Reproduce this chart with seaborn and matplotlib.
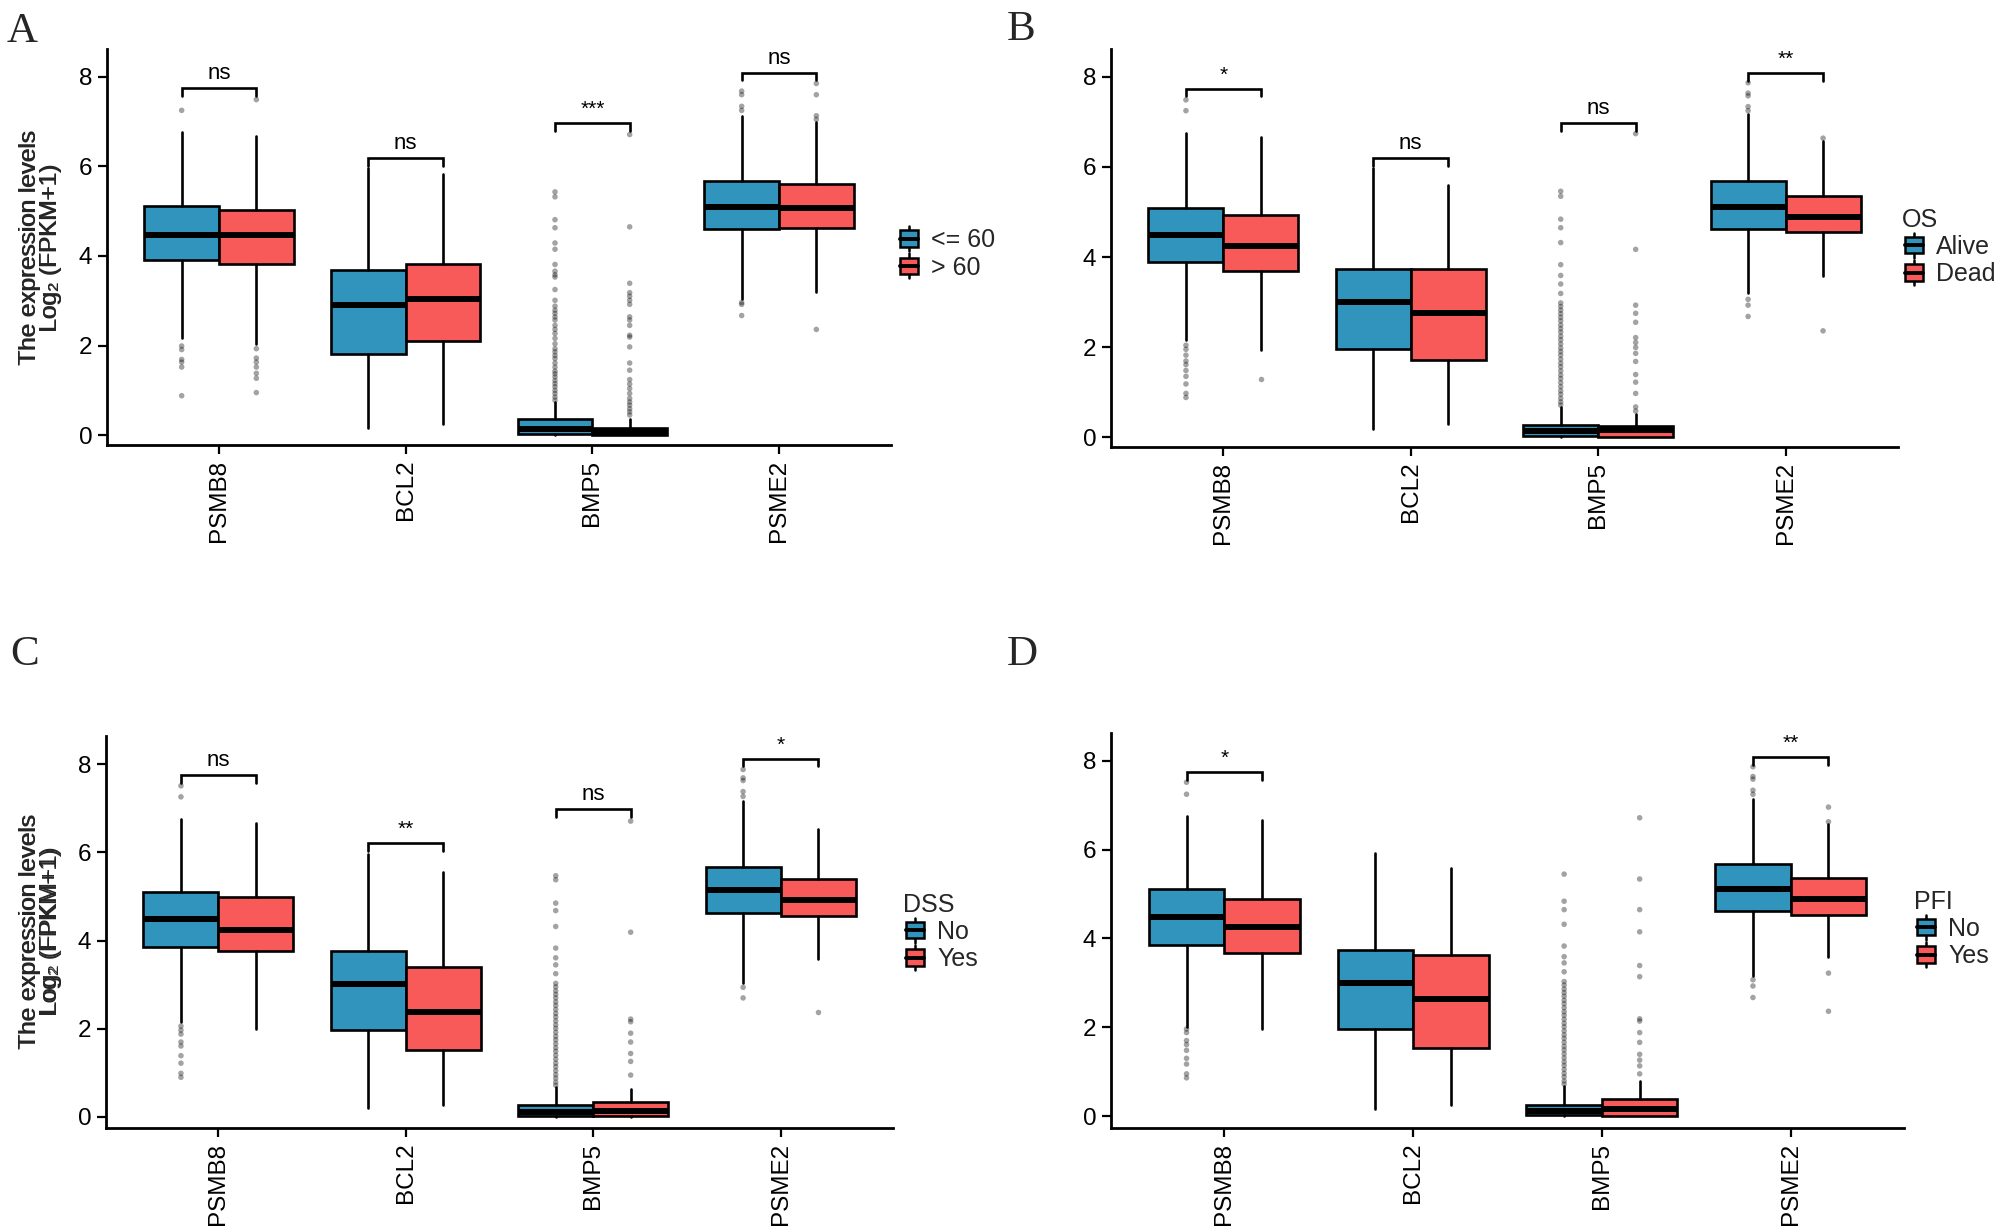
import numpy as np
import pandas as pd
import matplotlib
matplotlib.use("Agg")
import matplotlib.pyplot as plt
import seaborn as sns
from matplotlib.patches import Patch, Rectangle
from matplotlib.lines import Line2D
from matplotlib.legend_handler import HandlerBase

# ---------------- data ----------------
genes = ["PSMB8", "BCL2", "BMP5", "PSME2"]
colors = ["#3194BC", "#F85A5A"]

# Panel A : age
A_groups = ["<= 60", "> 60"]
A_title = None
A_g1_q1 = [3.91, 1.82, 0.03, 4.60]
A_g1_med = [4.47, 2.91, 0.13, 5.09]
A_g1_q3 = [5.11, 3.68, 0.35, 5.67]
A_g1_lo = [2.16, 0.17, 0.00, 3.05]
A_g1_hi = [6.76, 5.97, 0.74, 7.13]
A_g1_out = [[7.25, 1.99, 1.91, 1.69, 1.63, 1.52, 0.88],
            [],
            [5.43, 5.32, 4.81, 4.63, 4.29, 4.15, 3.81, 3.66, 3.58, 3.53, 3.25, 3.01, 2.88,
             2.79, 2.72, 2.64, 2.57, 2.45, 2.36, 2.27, 2.16, 2.04, 1.93, 1.86, 1.78, 1.71,
             1.61, 1.52, 1.43, 1.37, 1.30, 1.22, 1.15, 1.08, 1.00, 0.93, 0.85, 0.78],
            [7.68, 7.60, 7.34, 7.25, 2.96, 2.92, 2.67]]
A_g2_q1 = [3.82, 2.10, 0.00, 4.63]
A_g2_med = [4.46, 3.05, 0.07, 5.07]
A_g2_q3 = [5.03, 3.83, 0.15, 5.60]
A_g2_lo = [2.04, 0.24, 0.00, 3.19]
A_g2_hi = [6.67, 5.84, 0.36, 6.98]
A_g2_out = [[7.49, 1.93, 1.72, 1.63, 1.52, 1.38, 1.27, 0.95],
            [],
            [6.71, 4.65, 3.39, 3.18, 3.10, 3.01, 2.92, 2.64, 2.57, 2.45, 2.23, 2.19, 1.97,
             1.61, 1.45, 1.24, 1.14, 1.04, 0.93, 0.82, 0.74, 0.67, 0.59, 0.52, 0.45],
            [7.85, 7.60, 7.13, 7.05, 2.36]]
A_sig_pos = [0, 1, 2, 3]
A_sig_y = [7.74, 6.18, 6.97, 8.09]
A_sig_lab = ["ns", "ns", "***", "ns"]

# Panel B : OS
B_groups = ["Alive", "Dead"]
B_title = "OS"
B_g1_q1 = [3.88, 1.95, 0.02, 4.63]
B_g1_med = [4.48, 3.00, 0.13, 5.12]
B_g1_q3 = [5.09, 3.73, 0.27, 5.69]
B_g1_lo = [2.16, 0.17, 0.00, 3.19]
B_g1_hi = [6.76, 5.97, 0.67, 7.17]
B_g1_out = [[7.49, 7.25, 2.04, 1.95, 1.82, 1.69, 1.61, 1.48, 1.35, 1.18, 0.97, 0.88],
            [],
            [5.46, 5.35, 4.84, 4.65, 4.32, 3.83, 3.59, 3.40, 3.19, 2.98, 2.90, 2.82, 2.74,
             2.66, 2.58, 2.49, 2.41, 2.33, 2.24, 2.16, 2.07, 1.98, 1.90, 1.82, 1.73, 1.64,
             1.56, 1.47, 1.38, 1.30, 1.21, 1.12, 1.03, 0.95, 0.86, 0.78, 0.71],
            [7.87, 7.64, 7.58, 7.34, 7.25, 3.06, 2.93, 2.68]]
B_g2_q1 = [3.70, 1.72, 0.00, 4.56]
B_g2_med = [4.25, 2.75, 0.15, 4.88]
B_g2_q3 = [4.94, 3.73, 0.24, 5.36]
B_g2_lo = [1.93, 0.28, 0.00, 3.58]
B_g2_hi = [6.67, 5.60, 0.52, 6.58]
B_g2_out = [[1.29],
            [],
            [6.74, 4.17, 2.93, 2.75, 2.55, 2.21, 2.10, 1.99, 1.86, 1.68, 1.39, 1.22, 0.97,
             0.67, 0.58],
            [6.64, 2.36]]
B_sig_pos = [0, 1, 2, 3]
B_sig_y = [7.74, 6.20, 6.97, 8.09]
B_sig_lab = ["*", "ns", "ns", "**"]

# Panel C : DSS
C_groups = ["No", "Yes"]
C_title = "DSS"
C_g1_q1 = [3.86, 1.97, 0.02, 4.63]
C_g1_med = [4.50, 3.02, 0.12, 5.14]
C_g1_q3 = [5.10, 3.76, 0.27, 5.68]
C_g1_lo = [2.15, 0.20, 0.00, 3.03]
C_g1_hi = [6.76, 5.96, 0.68, 7.16]
C_g1_out = [[7.51, 7.26, 2.06, 1.97, 1.88, 1.70, 1.61, 1.39, 1.22, 0.99, 0.90],
            [],
            [5.47, 5.38, 4.85, 4.68, 4.32, 3.83, 3.61, 3.45, 3.25, 3.03, 2.95, 2.86, 2.78,
             2.70, 2.61, 2.53, 2.44, 2.35, 2.27, 2.18, 2.09, 2.01, 1.92, 1.83, 1.75, 1.66,
             1.57, 1.49, 1.40, 1.31, 1.22, 1.14, 1.05, 0.96, 0.88, 0.79, 0.72],
            [7.88, 7.69, 7.63, 7.38, 7.27, 2.94, 2.70]]
C_g2_q1 = [3.77, 1.53, 0.02, 4.56]
C_g2_med = [4.23, 2.39, 0.13, 4.91]
C_g2_q3 = [4.98, 3.41, 0.33, 5.40]
C_g2_lo = [1.99, 0.28, 0.00, 3.58]
C_g2_hi = [6.67, 5.56, 0.64, 6.54]
C_g2_out = [[],
            [],
            [6.71, 4.19, 2.22, 2.16, 1.90, 1.70, 1.44, 1.26, 0.95],
            [2.37]]
C_sig_pos = [0, 1, 2, 3]
C_sig_y = [7.75, 6.21, 6.98, 8.12]
C_sig_lab = ["ns", "**", "ns", "*"]

# Panel D : PFI
D_groups = ["No", "Yes"]
D_title = "PFI"
D_g1_q1 = [3.86, 1.95, 0.02, 4.63]
D_g1_med = [4.49, 3.00, 0.11, 5.11]
D_g1_q3 = [5.11, 3.74, 0.25, 5.67]
D_g1_lo = [2.01, 0.16, 0.00, 3.15]
D_g1_hi = [6.77, 5.93, 0.68, 7.14]
D_g1_out = [[7.52, 7.25, 1.96, 1.88, 1.70, 1.61, 1.48, 1.30, 1.17, 0.95, 0.86],
            [],
            [5.45, 4.84, 4.65, 4.32, 3.83, 3.59, 3.45, 3.25, 3.03, 2.95, 2.86, 2.78, 2.70,
             2.61, 2.53, 2.44, 2.35, 2.27, 2.18, 2.09, 2.01, 1.92, 1.83, 1.75, 1.66, 1.57,
             1.49, 1.40, 1.31, 1.22, 1.14, 1.05, 0.96, 0.88, 0.79, 0.72],
            [7.87, 7.65, 7.59, 7.34, 7.25, 3.07, 2.93, 2.67]]
D_g2_q1 = [3.68, 1.54, 0.01, 4.52]
D_g2_med = [4.27, 2.63, 0.16, 4.90]
D_g2_q3 = [4.90, 3.62, 0.38, 5.36]
D_g2_lo = [1.96, 0.25, 0.00, 3.58]
D_g2_hi = [6.68, 5.59, 0.78, 6.57]
D_g2_out = [[],
            [],
            [6.72, 5.34, 4.65, 4.15, 3.39, 3.14, 2.19, 2.14, 1.88, 1.66, 1.39, 1.26, 1.13,
             0.95],
            [6.96, 6.63, 3.22, 2.36]]
D_sig_pos = [0, 3]
D_sig_y = [7.75, 8.09]
D_sig_lab = ["*", "**"]

yticks = [0, 2, 4, 6, 8]
panel_letters = ["A", "B", "C", "D"]
ylabel_text = "The expression levels\nLog\u2082 (FPKM+1)"

# ---------------- style ----------------
sns.set_theme(style="ticks")
plt.rcParams["font.family"] = ["Liberation Sans", "DejaVu Sans"]

W, H = 2004, 1229
fig = plt.figure(figsize=(W / 100, H / 100), dpi=100)


class BoxKey(HandlerBase):
    def create_artists(self, legend, orig_handle, xdescent, ydescent, width, height,
                       fontsize, trans):
        fc = orig_handle.get_facecolor()
        cx = -xdescent + width / 2
        bw = width * 0.78
        y0 = -ydescent
        wl = Line2D([cx, cx], [y0 - height * 0.2, y0 + height * 1.2], color="black",
                    lw=1.8, transform=trans)
        rect = Rectangle((cx - bw / 2, y0 + height * 0.04), bw, height * 0.92,
                         facecolor=fc, edgecolor="black", lw=1.8, transform=trans)
        med = Line2D([cx - bw / 2, cx + bw / 2], [y0 + height / 2] * 2, color="black",
                     lw=2.8, transform=trans)
        return [wl, rect, med]


def px_rect(l, r, t, b):
    return [l / W, 1 - b / H, (r - l) / W, (b - t) / H]


panels = [
    dict(rect=px_rect(107, 891, 49, 445), ylim=(-0.22, 8.62), groups=A_groups, title=A_title,
         g1=(A_g1_q1, A_g1_med, A_g1_q3, A_g1_lo, A_g1_hi, A_g1_out),
         g2=(A_g2_q1, A_g2_med, A_g2_q3, A_g2_lo, A_g2_hi, A_g2_out),
         sig=(A_sig_pos, A_sig_y, A_sig_lab), leg=(897, 254), letter=(7, 42)),
    dict(rect=px_rect(1111, 1898, 49, 447), ylim=(-0.22, 8.62), groups=B_groups, title=B_title,
         g1=(B_g1_q1, B_g1_med, B_g1_q3, B_g1_lo, B_g1_hi, B_g1_out),
         g2=(B_g2_q1, B_g2_med, B_g2_q3, B_g2_lo, B_g2_hi, B_g2_out),
         sig=(B_sig_pos, B_sig_y, B_sig_lab), leg=(1902, 247), letter=(1007, 40)),
    dict(rect=px_rect(106, 893, 736, 1128), ylim=(-0.25, 8.64), groups=C_groups, title=C_title,
         g1=(C_g1_q1, C_g1_med, C_g1_q3, C_g1_lo, C_g1_hi, C_g1_out),
         g2=(C_g2_q1, C_g2_med, C_g2_q3, C_g2_lo, C_g2_hi, C_g2_out),
         sig=(C_sig_pos, C_sig_y, C_sig_lab), leg=(903, 932), letter=(10, 665)),
    dict(rect=px_rect(1111, 1904, 733, 1128), ylim=(-0.27, 8.63), groups=D_groups, title=D_title,
         g1=(D_g1_q1, D_g1_med, D_g1_q3, D_g1_lo, D_g1_hi, D_g1_out),
         g2=(D_g2_q1, D_g2_med, D_g2_q3, D_g2_lo, D_g2_hi, D_g2_out),
         sig=(D_sig_pos, D_sig_y, D_sig_lab), leg=(1914, 929), letter=(1007, 665)),
]

EDGE_LW = 1.9
for pi, p in enumerate(panels):
    ax = fig.add_axes(p["rect"])
    groups = p["groups"]

    # outliers through seaborn's categorical scale (dodged by hue)
    rows = []
    for gi, gdata in enumerate([p["g1"], p["g2"]]):
        for ci, gene in enumerate(genes):
            for v in gdata[5][ci]:
                rows.append((gene, groups[gi], v))
    df = pd.DataFrame(rows, columns=["gene", "group", "value"])
    sns.stripplot(data=df, x="gene", y="value", hue="group", order=genes,
                  hue_order=groups, dodge=True, jitter=False,
                  palette=["black", "black"], alpha=0.36, size=4.0, linewidth=0,
                  legend=False, ax=ax, zorder=1)

    # boxes from summary statistics
    for gi, gdata in enumerate([p["g1"], p["g2"]]):
        q1, med, q3, lo, hi, _ = gdata
        stats = [dict(q1=q1[i], med=med[i], q3=q3[i], whislo=lo[i], whishi=hi[i], fliers=[])
                 for i in range(len(genes))]
        offs = -0.2 if gi == 0 else 0.2
        ax.bxp(stats, positions=[i + offs for i in range(len(genes))], widths=0.4,
               patch_artist=True, showcaps=False, showfliers=False, manage_ticks=False,
               boxprops=dict(facecolor=colors[gi], edgecolor="black", linewidth=EDGE_LW),
               whiskerprops=dict(color="black", linewidth=EDGE_LW),
               medianprops=dict(color="black", linewidth=4.3, solid_capstyle="butt"),
               zorder=2)

    # significance brackets
    sp, sy, sl = p["sig"]
    for pos, yv, lab in zip(sp, sy, sl):
        x0, x1 = pos - 0.2, pos + 0.2
        ax.plot([x0, x0, x1, x1], [yv - 0.17, yv, yv, yv - 0.17], color="black",
                lw=1.9, solid_joinstyle="miter", clip_on=False, zorder=3)
        ax.text(pos, yv + 0.09, lab, ha="center", va="bottom",
                fontsize=16 if lab == "ns" else 15, color="black")

    ax.set_xlim(-0.6, 3.6)
    ax.set_ylim(*p["ylim"])
    ax.set_xticks(range(len(genes)))
    ax.set_xticklabels(genes, rotation=90, fontsize=17.5)
    ax.set_yticks(yticks)
    ax.set_yticklabels([str(t) for t in yticks], fontsize=17.5)
    ax.set_xlabel("")
    ax.set_ylabel(ylabel_text, fontsize=17.5, linespacing=0.95, fontweight="normal")
    ax.yaxis.set_label_coords(-(p["rect"][0] * W - 62) / (p["rect"][2] * W), 0.5)
    for s in ["top", "right"]:
        ax.spines[s].set_visible(False)
    for s in ["left", "bottom"]:
        ax.spines[s].set_linewidth(2.0)
        ax.spines[s].set_color("black")
    ax.tick_params(axis="both", length=6.5, width=1.6, color="black", labelcolor="black", pad=4)

    # legend with box glyph keys
    handles = [Patch(facecolor=colors[i], label=groups[i]) for i in range(2)]
    lx, ly = p["leg"]
    ax.legend(handles=handles, title=p["title"], loc="center left",
              bbox_to_anchor=(lx / W, 1 - ly / H), bbox_transform=fig.transFigure,
              frameon=False, fontsize=18, title_fontsize=18, borderpad=0, borderaxespad=0,
              handlelength=0.95, handleheight=0.72, handletextpad=0.42,
              labelspacing=0.13, alignment="left",
              handler_map={Patch: BoxKey()})

    # panel letter
    tx, ty = p["letter"]
    fig.text(tx / W, 1 - ty / H, panel_letters[pi], fontsize=31,
             family=["Liberation Serif", "DejaVu Serif"], va="baseline", ha="left")

fig.savefig("out.png", dpi=100)
